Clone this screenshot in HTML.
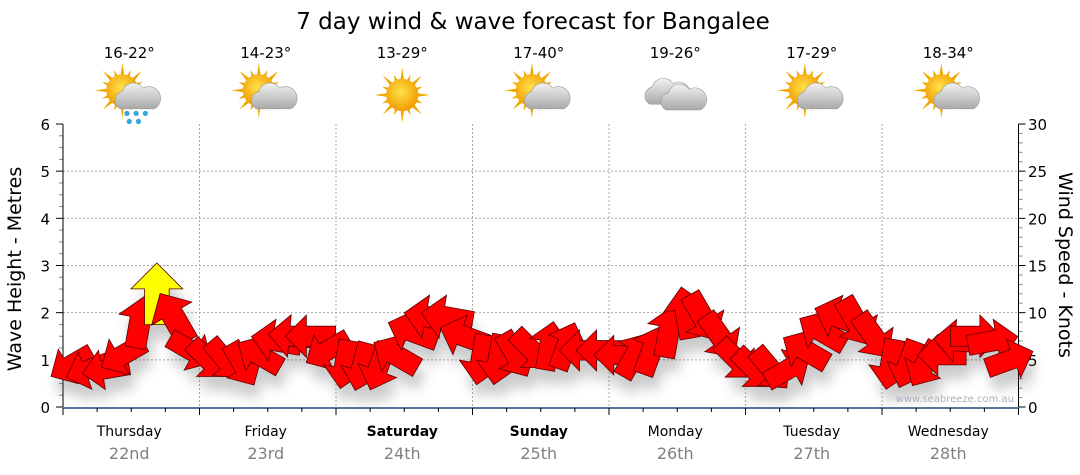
<!DOCTYPE html>
<html><head><meta charset="utf-8"><style>
body{margin:0;background:#fff;}
svg{display:block;font-family:"DejaVu Sans","Liberation Sans",sans-serif;}
</style></head><body>
<svg id="c" width="1080" height="475" viewBox="0 0 1080 475">
<defs>
<filter id="sh" x="-50%" y="-50%" width="200%" height="200%"><feGaussianBlur stdDeviation="6"/></filter>
<radialGradient id="sun" cx="45%" cy="40%" r="60%"><stop offset="0" stop-color="#ffe24a"/><stop offset="1" stop-color="#f29a00"/></radialGradient>
<linearGradient id="cl" x1="0" y1="0" x2="0" y2="1"><stop offset="0" stop-color="#f2f2f2"/><stop offset="1" stop-color="#a9a9a9"/></linearGradient>
</defs>
<text x="533" y="29" font-size="23" text-anchor="middle" fill="#000">7 day wind &amp; wave forecast for Bangalee</text>
<g id="grid"></g><g id="axes"></g><g id="icons"></g><g id="shadows" filter="url(#sh)" opacity="0.3"></g><g id="marks"></g>
<text transform="translate(21,269) rotate(-90)" font-size="19" text-anchor="middle">Wave Height - Metres</text>
<text transform="translate(1059,265) rotate(90)" font-size="19" text-anchor="middle">Wind Speed - Knots</text>
<text x="1014" y="402" font-size="10" text-anchor="end" fill="#aab0bb">www.seabreeze.com.au</text>
</svg>
<script>
const days=["Thursday","Friday","Saturday","Sunday","Monday","Tuesday","Wednesday"];
const dates=["22nd","23rd","24th","25th","26th","27th","28th"];
const temps=["16-22°","14-23°","13-29°","17-40°","19-26°","17-29°","18-34°"];
const icons=["rain","partly","sun","partly","cloud","partly","partly"];
const waveTicks=[0,1,2,3,4,5,6];
const windTicks=[0,5,10,15,20,25,30];
const waves=[0.9,0.8,0.8,1.1,1.8,2.4,1.9,1.2, 1.0,1.0,0.9,1.1,1.4,1.5,1.5,1.2, 0.9,0.85,0.85,1.1,1.6,1.9,1.9,1.5, 1.0,1.0,1.1,1.2,1.3,1.3,1.2,1.2, 1.1,1.1,1.2,1.6,2.0,1.9,1.5,1.0, 0.8,0.8,0.8,1.2,1.6,1.9,1.8,1.5, 0.9,0.9,0.9,1.1,1.4,1.5,1.4,1.0];
const windSpeed=[12,12,12,13,15,21,17,13, 12,12,12,13,14,14,14,13, 13,13,13,14,15,15,15,14, 14,14,13,13,13,13,13,13, 12,13,14,15,15,15,14,13, 13,13,13,14,15,15,15,14, 14,13,13,13,14,14,14,13];
const windDir=[150,160,170,150,-80,-90,-120,30, 45,50,60,-150,190,185,180,150, 100,105,110,-150,-160,190,190,200, 100,100,60,45,-80,-70,180,180, 180,-60,-70,-80,-100,60,55,45, 45,50,-30,-150,-150,200,60,55, 100,110,120,180,185,0,-10,-20];

const svg=document.getElementById('c');
const NS='http://www.w3.org/2000/svg';
const X0=63,X1=1018.5,Y0=407,Y1=124;
const dayW=(X1-X0)/7;
function xT(i){return X0+(i+0.5)*(X1-X0)/waves.length;}
function yW(v){return Y0-(v/6)*(Y0-Y1);}
function yK(v){return Y0-(v/30)*(Y0-Y1);}
function mk(tag,attrs,parent){const e=document.createElementNS(NS,tag);for(const k in attrs)e.setAttribute(k,attrs[k]);(parent||svg).appendChild(e);return e;}
const grid=document.getElementById('grid'),axes=document.getElementById('axes');
waveTicks.forEach(v=>{
  if(v>0&&v<6){const l=mk('line',{x1:X0,x2:X1,y1:yW(v),y2:yW(v),stroke:'#aaa','stroke-dasharray':'2,2'},grid);
  
  }
  const t=mk('text',{x:50,y:yW(v)+6,'font-size':15,'text-anchor':'end'},axes);t.textContent=v;
  
  
});
for(let v=0;v<=6;v+=0.25){mk('line',{x1:X0-(v%1?4:7),x2:X0,y1:yW(v),y2:yW(v),stroke:v%1?'#888':'#000'},axes);}
windTicks.forEach(v=>{
  const t=mk('text',{x:1028,y:yK(v)+6,'font-size':15},axes);t.textContent=v;
  
  
});
for(let v=0;v<=30;v++){mk('line',{x1:X1,x2:X1+(v%5?4:7),y1:yK(v),y2:yK(v),stroke:v%5?'#888':'#000'},axes);}
mk('line',{x1:X0,x2:X0,y1:Y1,y2:Y0,stroke:'#000'},axes);
mk('line',{x1:X1,x2:X1,y1:Y1,y2:Y0,stroke:'#000'},axes);
mk('line',{x1:X0,x2:X1,y1:Y0+1,y2:Y0+1,stroke:'#1a4a7a','stroke-width':1.5},axes);
for(let h=0;h<=28;h++){const x=X0+h*dayW/4;mk('line',{x1:x,x2:x,y1:Y0+1,y2:Y0+(h%4?5:8),stroke:'#000'},axes);}
days.forEach((d,i)=>{
  const cx=X0+(i+0.5)*dayW;
  if(i>0){const l=mk('line',{x1:X0+i*dayW,x2:X0+i*dayW,y1:Y1,y2:Y0,stroke:'#aaa','stroke-dasharray':'2,2'},grid);
  
  }
  const t=mk('text',{x:cx-2,y:436,'font-size':14,'text-anchor':'middle','font-weight':(i==2||i==3)?'bold':'normal'},axes);t.textContent=d;
  
  
  const t2=mk('text',{x:cx-2,y:459,'font-size':16,'text-anchor':'middle',fill:'#808080'},axes);t2.textContent=dates[i];
  
  
  const t3=mk('text',{x:cx-2,y:58,'font-size':15,'text-anchor':'middle'},document.getElementById('icons'));t3.textContent=temps[i];
  
  
  const g=mk('g',{transform:`translate(${cx-2},95) scale(1.15)`},document.getElementById('icons'));
  
  
  const k=icons[i];
  if(k!=='cloud'){
    const sx=k==='sun'?0:-6,sy=k==='sun'?0:-4;
    for(let a=0;a<16;a++){const an=a*Math.PI/8,r1=12,r2=a%2?19:24;
      mk('polygon',{points:`${sx+Math.cos(an-0.15)*r1},${sy+Math.sin(an-0.15)*r1} ${sx+Math.cos(an)*r2},${sy+Math.sin(an)*r2} ${sx+Math.cos(an+0.15)*r1},${sy+Math.sin(an+0.15)*r1}`,fill:'#f0a800'},g);}
    mk('circle',{cx:sx,cy:sy,r:14,fill:'url(#sun)'},g);
  }
  if(k!=='sun'){
    const cloud=(ox,oy)=>{mk('path',{d:`M${ox-14},${oy+10} a8,8 0 0 1 2,-15 a10,10 0 0 1 18,-3 a8,8 0 0 1 10,18 z`,fill:'url(#cl)',stroke:'#999','stroke-width':0.5},g);};
    if(k==='cloud'){cloud(-8,-2);cloud(6,3);}else cloud(6,2);
    if(k==='rain'){[[-2,16],[6,16],[14,16],[0,23],[8,23]].forEach(p=>mk('circle',{cx:p[0],cy:p[1],r:2.3,fill:'#3aa8e0'},g));}
  }
});
let d='';waves.forEach((v,i)=>{d+=(i?'L':'M')+xT(i)+','+yW(v);});
const wl=mk('path',{d:d,fill:'none',stroke:'#999','stroke-width':1},document.getElementById('marks'));


function arrowPts(L){const w=L*0.2,hw=L*0.42,hl=L*0.42,a=-L/2,b=L/2;
  return `${a},${-w} ${b-hl},${-w} ${b-hl},${-hw} ${b},0 ${b-hl},${hw} ${b-hl},${w} ${a},${w}`;}
const sh=document.getElementById('shadows'),mg=document.getElementById('marks');
waves.forEach((v,i)=>{
  const L=28+windSpeed[i]*1.6;
  const tr=`translate(${xT(i)},${yW(v)}) rotate(${windDir[i]})`;
  mk('polygon',{points:arrowPts(L),transform:`translate(${xT(i)+4},${yW(v)+14}) rotate(${windDir[i]})`,fill:'#555'},sh);
  const p=mk('polygon',{points:arrowPts(L),transform:tr,fill:windSpeed[i]>=20?'#ffff00':'#ff0000',stroke:'#5a0000','stroke-width':0.8},mg);
  
  
});
</script>
</body></html>
